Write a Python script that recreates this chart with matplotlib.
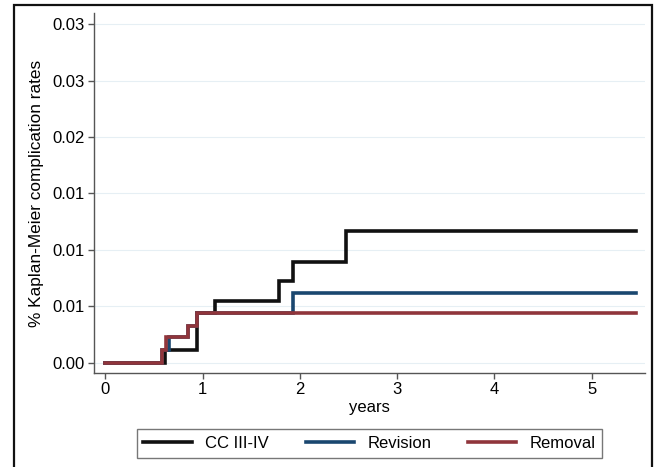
import matplotlib
matplotlib.use("Agg")
import matplotlib.pyplot as plt
from matplotlib.patches import Rectangle

plt.rcParams['font.family'] = ['Liberation Sans', 'DejaVu Sans']

# Data (step functions: time in years, cumulative rate)
cc_t = [0, 0.614, 0.939, 1.127, 1.785, 1.932, 2.474, 5.45]
cc_y = [0, 0.00113, 0.00438, 0.0055, 0.00719, 0.00896, 0.01163, 0.01163]
rev_t = [0, 0.58, 0.655, 0.853, 0.939, 1.932, 5.45]
rev_y = [0, 0.00113, 0.00225, 0.00326, 0.00438, 0.00621, 0.00621]
rem_t = [0, 0.58, 0.624, 0.853, 0.939, 5.45]
rem_y = [0, 0.00113, 0.00225, 0.00326, 0.00438, 0.00438]

yticks = [0, 0.005, 0.010, 0.015, 0.020, 0.025, 0.030]
ytick_labels = ["0.00", "0.01", "0.01", "0.01", "0.02", "0.03", "0.03"]
xticks = [0, 1, 2, 3, 4, 5]
labels = ["CC III-IV", "Revision", "Removal"]
colors = ["#111111", "#1a476f", "#90353b"]

W, H = 655, 467
fig = plt.figure(figsize=(W / 100, H / 100), dpi=100)
ax = fig.add_axes([94.3 / W, 1 - 372.7 / H, (645 - 94.3) / W, (372.7 - 13.3) / H])

for t, y, c, lab in zip([cc_t, rev_t, rem_t], [cc_y, rev_y, rem_y], colors, labels):
    ax.step(t, y, where='post', color=c, lw=2.6, label=lab, solid_joinstyle='miter')

ax.set_xlim(-0.113, 5.547)
ax.set_ylim(-0.000905, 0.03099)
ax.set_yticks(yticks)
ax.set_yticklabels(ytick_labels)
ax.set_xticks(xticks)
for yv in yticks:
    ax.axhline(yv, color="#e6eff4", lw=0.8, zorder=0)

for s in ['top', 'right']:
    ax.spines[s].set_visible(False)
for s in ['left', 'bottom']:
    ax.spines[s].set_color("#555555")
    ax.spines[s].set_linewidth(1.0)
ax.tick_params(axis='both', direction='out', length=4, width=1.0, color="#555555",
               labelsize=12, pad=3)
ax.set_ylabel("% Kaplan-Meier complication rates", fontsize=12.4, labelpad=6)
ax.set_xlabel("years", fontsize=12, labelpad=2)

leg = fig.legend(loc='center', bbox_to_anchor=((136 + 603) / 2 / W, 1 - 443.5 / H),
                 ncol=3, fontsize=12, frameon=True, fancybox=False,
                 edgecolor="#555555", handlelength=2.9, columnspacing=2.2,
                 handletextpad=0.8, borderpad=0.4)
leg.get_frame().set_linewidth(1.0)
for line in leg.get_lines():
    line.set_linewidth(2.6)

fig.patches.append(Rectangle((13.5 / W, -0.05), (652 - 13.5) / W, 1 - 5 / H + 0.05,
                             transform=fig.transFigure, fill=False,
                             edgecolor="#111111", lw=1.6))

fig.savefig("out.png", dpi=100)
